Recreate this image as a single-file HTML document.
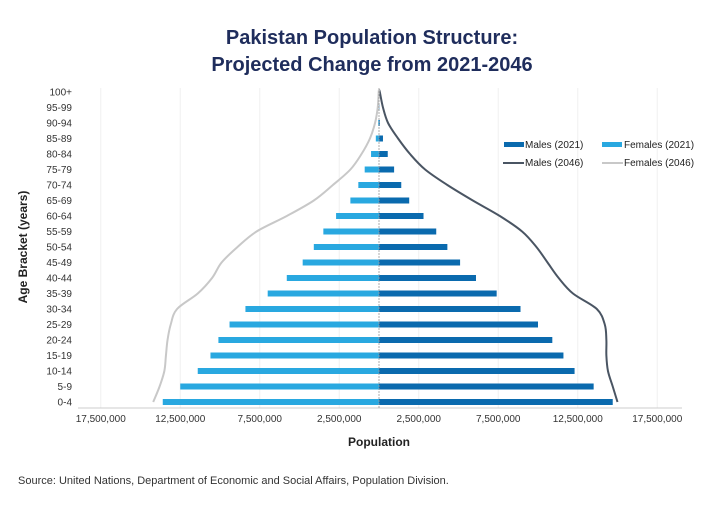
<!DOCTYPE html>
<html><head><meta charset="utf-8"><style>
body{margin:0;background:#fff;font-family:"Liberation Sans",sans-serif}
svg text{font-family:"Liberation Sans",sans-serif}
</style></head><body>
<svg width="720" height="500" id="chart">
<text x="372" y="44" text-anchor="middle" font-size="20" font-weight="bold" fill="#1f2d5c">Pakistan Population Structure:</text>
<text x="372" y="71" text-anchor="middle" font-size="20" font-weight="bold" fill="#1f2d5c">Projected Change from 2021-2046</text>
<text transform="translate(27,247) rotate(-90)" text-anchor="middle" font-size="12" font-weight="bold" fill="#222">Age Bracket (years)</text>
<text x="379" y="446" text-anchor="middle" font-size="12" font-weight="bold" fill="#222">Population</text>
<text x="18" y="484" font-size="11" fill="#333">Source: United Nations, Department of Economic and Social Affairs, Population Division.</text>
<g id="grid"></g><g id="bars"></g><g id="lines"></g><g id="axes"></g>
<g>
<rect x="504" y="142" width="20" height="5" fill="#0a6aae"/>
<text x="525" y="148" font-size="10" fill="#222">Males (2021)</text>
<rect x="602" y="142" width="20" height="5" fill="#29a8e0"/>
<text x="624" y="148" font-size="10" fill="#222">Females (2021)</text>
<line x1="503" y1="163" x2="524" y2="163" stroke="#4a5563" stroke-width="2"/>
<text x="525" y="166" font-size="10" fill="#222">Males (2046)</text>
<line x1="602" y1="163" x2="623" y2="163" stroke="#c8c8c8" stroke-width="2"/>
<text x="624" y="166" font-size="10" fill="#222">Females (2046)</text>
</g>
</svg>
<script>
const ages=["0-4","5-9","10-14","15-19","20-24","25-29","30-34","35-39","40-44","45-49","50-54","55-59","60-64","65-69","70-74","75-79","80-84","85-89","90-94","95-99","100+"];
const males2021=[14.7,13.5,12.3,11.6,10.9,10.0,8.9,7.4,6.1,5.1,4.3,3.6,2.8,1.9,1.4,0.95,0.55,0.25,0.05,0.02,0];
const females2021=[13.6,12.5,11.4,10.6,10.1,9.4,8.4,7.0,5.8,4.8,4.1,3.5,2.7,1.8,1.3,0.9,0.5,0.2,0.05,0.01,0];
const males2046=[15.0,14.7,14.4,14.3,14.3,14.2,13.7,12.2,11.3,10.6,9.9,9.0,7.6,5.9,4.3,2.9,1.95,1.2,0.57,0.25,0.05];
const females2046=[14.2,13.8,13.5,13.4,13.3,13.1,12.7,11.4,10.5,9.9,8.9,7.7,5.8,4.1,2.9,1.8,1.1,0.57,0.25,0.08,0.02];
const xTicks=[-17.5,-12.5,-7.5,-2.5,2.5,7.5,12.5,17.5];
const xTickLabels=["17,500,000","12,500,000","7,500,000","2,500,000","2,500,000","7,500,000","12,500,000","17,500,000"];
const NS="http://www.w3.org/2000/svg";
const cx=379,k=15.9;
const X=v=>cx+v*k;
const Y=i=>402-i*15.5;
function mk(t,a,p){const e=document.createElementNS(NS,t);for(const n in a)e.setAttribute(n,a[n]);document.getElementById(p).appendChild(e);return e;}
xTicks.forEach((v,i)=>{
 const g=mk('line',{x1:X(v),x2:X(v),y1:88,y2:408,stroke:'#f0f0f0'},'grid');
 
 
 const t=mk('text',{x:X(v),y:422,'text-anchor':'middle','font-size':10,fill:'#333'},'axes');
 t.textContent=xTickLabels[i];
 
 
});
const ax=mk('line',{x1:78,x2:682,y1:408,y2:408,stroke:'#ccc'},'axes');


const cl=mk('line',{x1:cx,x2:cx,y1:88,y2:408,stroke:'#999','stroke-dasharray':'2,1','stroke-width':0.8},'axes');


ages.forEach((a,i)=>{
 const t=mk('text',{x:72,y:Y(i)+3.5,'text-anchor':'end','font-size':10,fill:'#333'},'axes');
 t.textContent=a;
 
 
 const m=mk('rect',{x:cx,y:Y(i)-3,width:X(males2021[i])-cx,height:6,fill:'#0a6aae'},'bars');
 
 
 const f=mk('rect',{x:X(-females2021[i]),y:Y(i)-3,width:cx-X(-females2021[i]),height:6,fill:'#29a8e0'},'bars');
 
 
});
function smooth(pts){let d=`M${pts[0][0]},${pts[0][1]}`;for(let i=0;i<pts.length-1;i++){const p0=pts[i-1]||pts[i],p1=pts[i],p2=pts[i+1],p3=pts[i+2]||p2;d+=` C${p1[0]+(p2[0]-p0[0])/6},${p1[1]+(p2[1]-p0[1])/6} ${p2[0]-(p3[0]-p1[0])/6},${p2[1]-(p3[1]-p1[1])/6} ${p2[0]},${p2[1]}`;}return d;}
const mp=males2046.map((v,i)=>[X(v),Y(i)]);mp.push([cx,90]);
const fp=females2046.map((v,i)=>[X(-v),Y(i)]);fp.push([cx,90]);
const ml=mk('path',{d:smooth(mp),fill:'none',stroke:'#4a5563','stroke-width':2},'lines');


const fl=mk('path',{d:smooth(fp),fill:'none',stroke:'#c8c8c8','stroke-width':2},'lines');


</script>
</body></html>
